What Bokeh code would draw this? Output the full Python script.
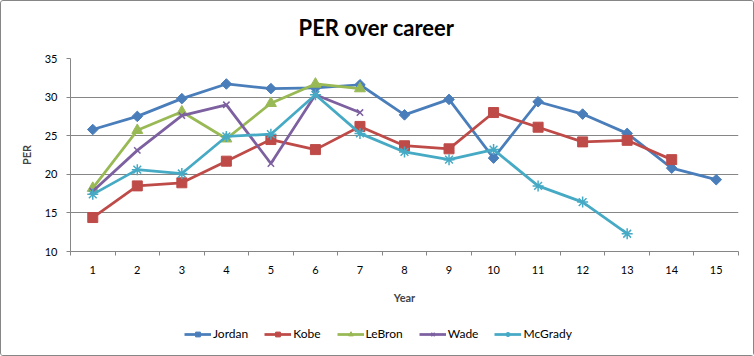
import math
from bokeh.plotting import figure
from bokeh.layouts import column
from bokeh.models import Range1d, FixedTicker, Legend, LegendItem, Label
from bokeh.embed import file_html
from bokeh.resources import INLINE

years = list(range(1, 16))
jordan = [25.8, 27.5, 29.8, 31.7, 31.1, 31.2, 31.6, 27.7, 29.7, 22.1, 29.4, 27.8, 25.3, 20.8, 19.3]
kobe = [14.4, 18.5, 18.9, 21.7, 24.5, 23.2, 26.2, 23.7, 23.3, 28.0, 26.1, 24.2, 24.4, 21.9]
lebron = [18.2, 25.7, 28.1, 24.6, 29.2, 31.7, 31.1]
wade = [17.8, 23.1, 27.6, 29.0, 21.4, 30.3, 28.0]
mcgrady = [17.4, 20.6, 20.1, 24.9, 25.2, 30.3, 25.3, 22.9, 21.9, 23.2, 18.5, 16.4, 12.3]
y_ticks = [10, 15, 20, 25, 30, 35]
title_text = "PER over career"

FONT = "Lato"
GRAY = "#868686"


def strip(h):
    # the column aligns this strip's frame with the chart frame (668 px wide)
    f = figure(width=752, height=h, output_backend="svg", toolbar_location=None,
               x_range=Range1d(0, 668), y_range=Range1d(0, h),
               x_axis_location=None, y_axis_location=None,
               min_border_left=0, min_border_right=0, min_border_top=0, min_border_bottom=0,
               background_fill_color="white", border_fill_color="white")
    f.outline_line_color = None
    f.xgrid.visible = False
    f.ygrid.visible = False
    return f


# title strip
pt = strip(49)
pt.add_layout(Label(x=306, y=23, text=title_text, text_align="center", text_baseline="middle",
                    text_font=FONT, text_font_size="22px", text_font_style="bold",
                    text_color="black"))

p = figure(width=752, height=269, output_backend="svg", toolbar_location=None,
           x_range=Range1d(0.5, 15.5), y_range=Range1d(10, 35),
           min_border_left=69, min_border_right=15, min_border_top=8, min_border_bottom=68,
           background_fill_color="white", border_fill_color="white")
p.outline_line_color = None

# x axis
xa = p.xaxis[0]
xa.ticker = FixedTicker(ticks=years, minor_ticks=[y - 0.5 for y in years] + [15.5])
xa.major_tick_out = 0
xa.major_tick_in = 0
xa.minor_tick_out = 4
xa.minor_tick_in = 0
xa.minor_tick_line_color = GRAY
xa.axis_line_color = GRAY
xa.major_label_standoff = 10
xa.major_label_text_font = FONT
xa.major_label_text_font_size = "11px"
xa.major_label_text_color = "black"
xa.axis_label = "Year"
xa.axis_label_text_font = FONT
xa.axis_label_text_font_size = "11px"
xa.axis_label_text_font_style = "bold"
xa.axis_label_standoff = 14

# y axis
ya = p.yaxis[0]
ya.ticker = FixedTicker(ticks=y_ticks)
ya.major_tick_out = 4
ya.major_tick_in = 0
ya.minor_tick_out = 0
ya.minor_tick_in = 0
ya.major_tick_line_color = GRAY
ya.axis_line_color = GRAY
ya.major_label_standoff = 9
ya.major_label_text_font = FONT
ya.major_label_text_font_size = "11px"
ya.major_label_text_color = "black"
ya.axis_label = "PER"
ya.axis_label_text_font = FONT
ya.axis_label_text_font_size = "11px"
ya.axis_label_text_font_style = "bold"
ya.axis_label_standoff = 9

p.xgrid.visible = False
p.ygrid.ticker = FixedTicker(ticks=y_ticks)
p.ygrid.grid_line_color = GRAY
p.ygrid.grid_line_width = 1

series = [
    ("Jordan", jordan, "#4A7EBB", "square", 7.5, math.pi / 4),
    ("Kobe", kobe, "#BE4B48", "square", 10, 0),
    ("LeBron", lebron, "#98B954", "triangle", 11, 0),
    ("Wade", wade, "#7D60A0", "x", 9, 0),
    ("McGrady", mcgrady, "#46AAC5", "asterisk", 11, 0),
]

# legend strip below the chart (its glyph samples sit outside its visible range)
pl = strip(36)

items = []
for name, vals, col, mk, sz, ang in series:
    xs = years[:len(vals)]
    lw = 1.5 if mk in ("x", "asterisk") else 1
    p.line(xs, vals, line_color=col, line_width=2.75)
    p.scatter(xs, vals, marker=mk, size=sz, angle=ang, fill_color=col,
              line_color=col, line_width=lw)
    l1 = pl.line([-50, -40], [-50, -50], line_color=col, line_width=2.75)
    l2 = pl.scatter([-50], [-50], marker=mk, size=sz, angle=ang, fill_color=col,
                    line_color=col, line_width=lw)
    items.append(LegendItem(label=name, renderers=[l1, l2]))

legend = Legend(items=items, orientation="horizontal", location=(114, 14),
                label_text_font=FONT, label_text_font_size="12px", label_text_color="black",
                glyph_width=27, glyph_height=12, label_standoff=2, spacing=16,
                padding=0, margin=0, border_line_color=None, background_fill_alpha=0)
pl.add_layout(legend, "center")

layout = column(pt, p, pl, spacing=0)
layout.styles = {"border": "1px solid #868686", "border-radius": "3px"}

open("out.html", "w").write(file_html(layout, INLINE))
